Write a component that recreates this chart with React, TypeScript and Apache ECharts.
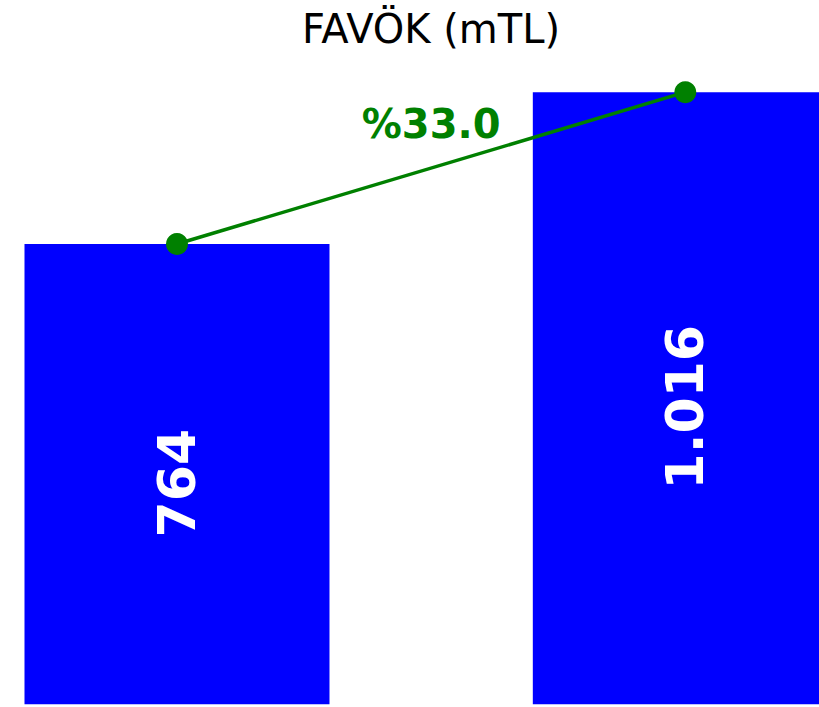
import React, { useEffect, useRef } from "react";
import * as echarts from "echarts";

const titleText = "FAVÖK (mTL)";
const categoryPositions = [0, 1];
const values = [764, 1016];

const fmt = (v: number) => {
  const s = Math.round(v).toString();
  return s.replace(/\B(?=(\d{3})+(?!\d))/g, ".");
};

export default function App() {
  const ref = useRef<HTMLDivElement>(null);
  useEffect(() => {
    if (!ref.current) return;
    const chart = echarts.init(ref.current, undefined, { renderer: "svg" });
    const font = "DejaVu Sans";
    const pairs = categoryPositions.map((x, i) => [x, values[i]]);
    chart.setOption({
      animation: false,
      title: {
        text: titleText,
        left: 297,
        top: 4,
        textStyle: { fontFamily: font, fontSize: 40, fontWeight: "normal", color: "#000" },
      },
      grid: { left: 0, right: 0, top: 41.55, bottom: 2.7 },
      xAxis: {
        type: "value",
        min: -0.3482,
        max: 1.263,
        show: false,
      },
      yAxis: { type: "value", min: 0, max: 1100, show: false },
      series: [
        {
          type: "bar",
          data: pairs,
          barWidth: 305,
          itemStyle: { color: "#0000ff" },
          label: {
            show: true,
            position: "inside",
            rotate: 90,
            offset: [-9, 0],
            color: "#ffffff",
            fontFamily: font,
            fontSize: 52,
            fontWeight: "bold",
            formatter: (p: any) => fmt(p.value[1]),
          },
        },
        {
          type: "line",
          data: pairs,
          symbol: "circle",
          symbolSize: 22,
          lineStyle: { color: "#008000", width: 3.5 },
          itemStyle: { color: "#008000" },
          z: 5,
        },
      ],
    });
    const p0 = chart.convertToPixel({ gridIndex: 0 }, pairs[0]) as number[];
    const p1 = chart.convertToPixel({ gridIndex: 0 }, pairs[1]) as number[];
    const pct = "%" + (((values[1] - values[0]) / values[0]) * 100).toFixed(1);
    chart.setOption({
      graphic: [
        {
          type: "text",
          x: (p0[0] + p1[0]) / 2,
          y: (p0[1] + p1[1]) / 2 - 44,
          z: 10,
          style: {
            text: pct,
            fill: "#008000",
            fontFamily: font,
            fontSize: 40,
            fontWeight: "bold",
            align: "center",
            verticalAlign: "middle",
            textAlign: "center",
            textVerticalAlign: "middle",
          },
        },
      ],
    });
    return () => chart.dispose();
  }, []);
  return (
    <div
      ref={ref}
      style={{ position: "fixed", left: 0, top: 0, width: 819, height: 707, background: "#fff" }}
    />
  );
}
